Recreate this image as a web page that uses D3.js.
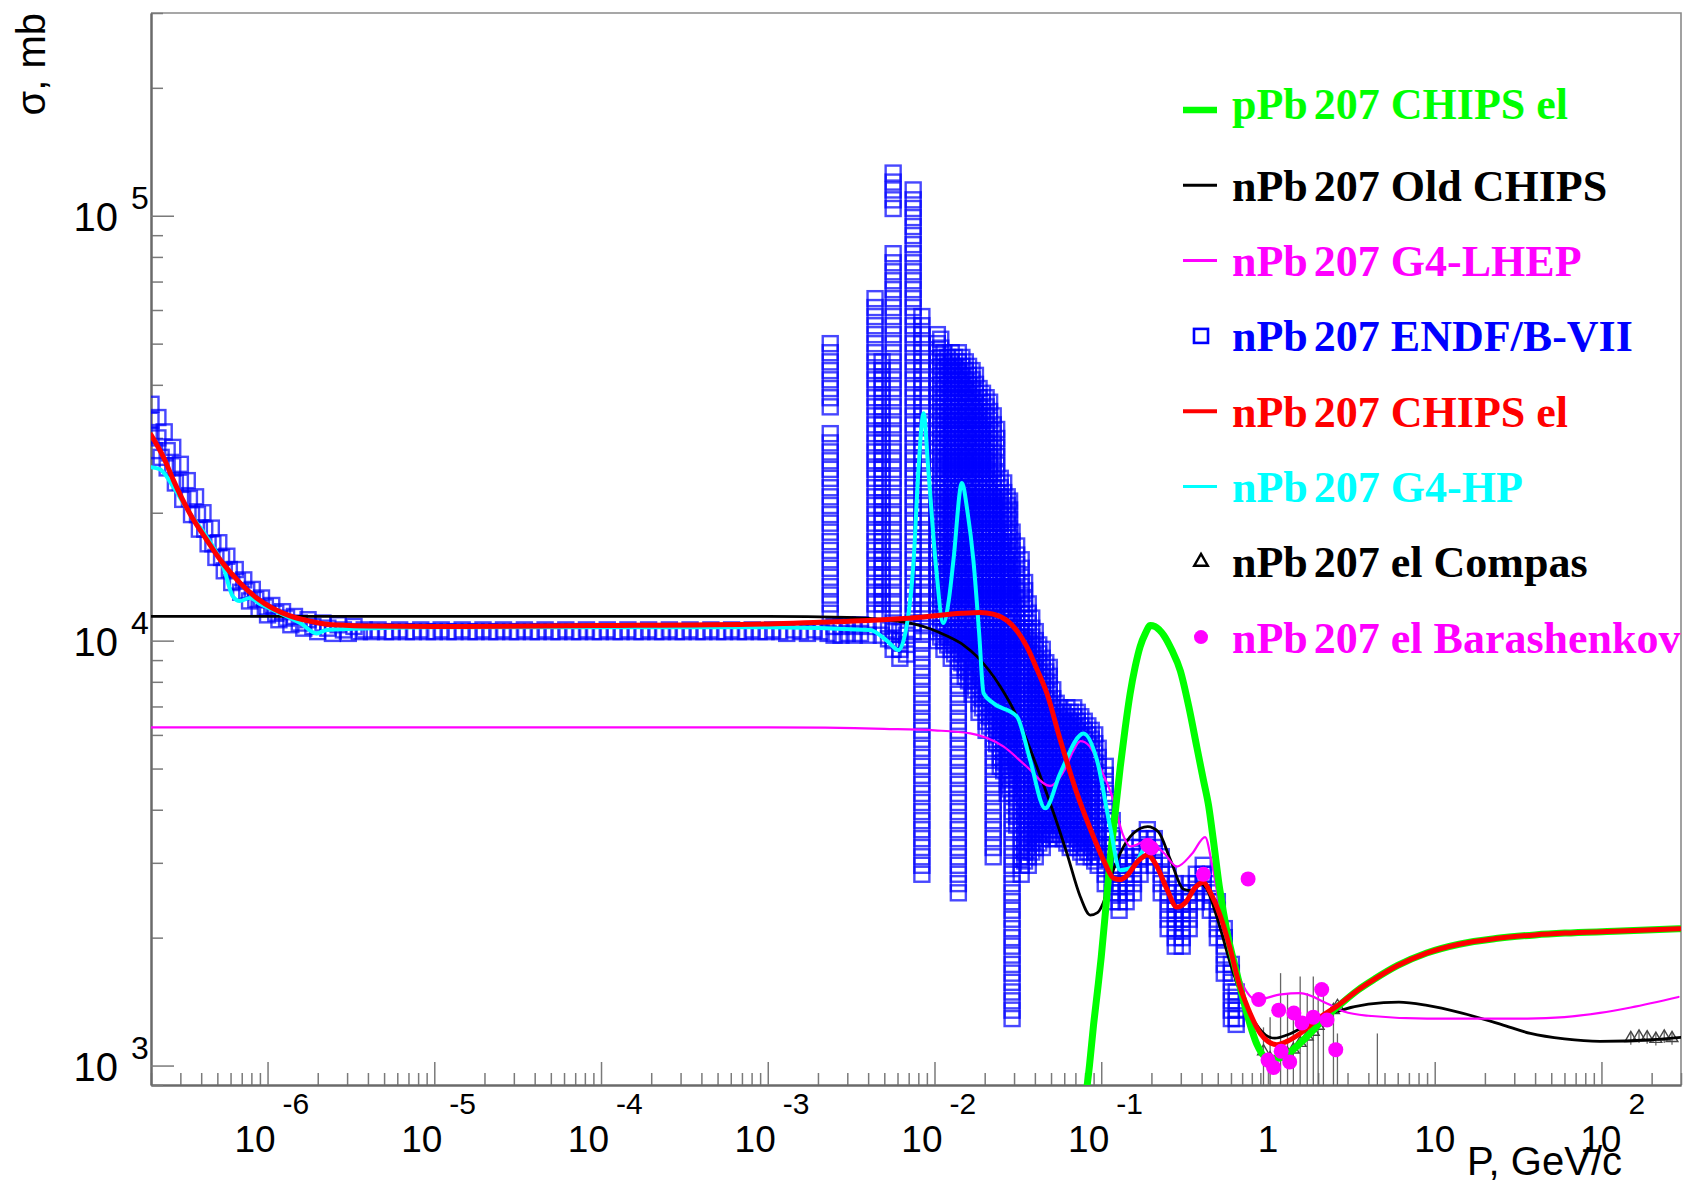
<!DOCTYPE html>
<html>
<head>
<meta charset="utf-8">
<script src="https://cdn.jsdelivr.net/npm/d3@7"></script>
<style>
  html, body { margin: 0; padding: 0; background: #fff; }
  svg { display: block; }
</style>
</head>
<body>
<svg id="chart" width="1689" height="1180"></svg>
<script>
// ---------------- data: elastic n/p + Pb207 cross sections, sigma [mb] vs P [GeV/c]

// pPb207 CHIPS el
const pChipsEl = [
  [0.08,820],[0.085,1000],[0.09,1250],[0.095,1500],[0.1,1800],[0.106,2300],[0.113,3050],[0.121,3900],
  [0.13,5040],[0.139,6200],[0.149,7500],[0.16,8700],[0.171,9680],[0.184,10400],[0.197,10850],[0.21,10800],
  [0.223,10600],[0.237,10300],[0.265,9500],[0.298,8500],[0.335,7000],[0.375,5600],[0.41,4700],[0.44,4100],
  [0.47,3400],[0.51,2650],[0.57,2050],[0.65,1650],[0.75,1320],[0.86,1120],[1.0,1040],[1.15,1040],
  [1.33,1070],[1.6,1140],[2.14,1280],[2.59,1370],[3.5,1510],[4.38,1600],[6,1720],[8.95,1840],
  [14,1930],[23.2,1990],[40,2030],[60.4,2050],[120,2070],[300,2100]
];

// nPb207 Old CHIPS
const nOldChips = [
  [2e-7,11400],[1e-4,11400],[1e-3,11400],[3e-3,11350],[5e-3,11200],[7.5e-3,10950],[0.0095,10650],
  [0.0119,10250],[0.015,9750],[0.018,9170],[0.0248,7800],[0.0312,6630],[0.0411,5050],[0.0518,3930],
  [0.0622,3160],[0.0748,2500],[0.0859,2260],[0.095,2290],[0.103,2420],[0.115,2800],[0.13,3160],
  [0.156,3520],[0.19,3650],[0.22,3550],[0.26,3050],[0.312,2600],[0.35,2580],[0.393,2680],[0.43,2600],
  [0.5,2200],[0.6,1720],[0.7,1450],[0.85,1250],[1.0,1170],[1.1,1160],[1.3,1180],[1.8,1260],
  [2.59,1340],[4,1395],[6.1,1410],[9,1385],[14.4,1330],[25,1250],[37.5,1190],[60,1155],[98,1140],
  [200,1150],[300,1165]
];

// nPb207 G4-LHEP
const nLhep = [
  [2e-7,6250],[1e-3,6250],[5e-3,6200],[0.01,6150],[0.0164,6050],[0.026,5630],[0.0358,5050],
  [0.0494,4550],[0.06,4950],[0.068,5500],[0.075,5800],[0.085,5650],[0.098,5050],[0.1186,4200],
  [0.134,3520],[0.15,3280],[0.19,3380],[0.24,3150],[0.284,2940],[0.35,3150],[0.42,3450],[0.46,3000],
  [0.52,2300],[0.6,1850],[0.7,1560],[0.85,1430],[1.2,1470],[1.56,1480],[2.26,1400],[2.85,1340],
  [4,1310],[9,1290],[36,1290],[60,1300],[98,1330],[150,1370],[290,1450]
];

// nPb207 CHIPS el
const nChipsEl = [
  [2e-7,30500],[2.4e-7,26800],[2.72e-7,23900],[3.4e-7,20000],[4.3e-7,17300],[5.4e-7,15200],
  [6.8e-7,13700],[8.6e-7,12600],[1.08e-6,11900],[1.35e-6,11450],[1.72e-6,11150],[2.2e-6,10950],
  [2.72e-6,10880],[4e-6,10820],[1e-5,10800],[1e-4,10850],[1e-3,10950],[2.06e-3,11050],[4e-3,11150],
  [8.2e-3,11350],[0.0145,11600],[0.0188,11650],[0.0225,11550],[0.0272,11150],[0.0315,10500],
  [0.0358,9680],[0.0415,8500],[0.0472,7520],[0.0568,5840],[0.0715,4370],[0.09,3450],[0.105,3000],
  [0.1186,2760],[0.13,2740],[0.1426,2800],[0.165,3020],[0.19,3130],[0.215,2950],[0.25,2580],
  [0.284,2360],[0.32,2420],[0.365,2620],[0.41,2700],[0.45,2560],[0.52,2240],[0.59,1900],[0.68,1530],
  [0.75,1380],[0.9,1190],[1.0,1140],[1.13,1120],[1.3,1140],[1.56,1190],[2.0,1290],[2.59,1380],
  [3.5,1510],[4.38,1600],[6,1720],[8.95,1840],[14,1930],[23.2,1990],[40,2030],[60.4,2050],
  [120,2070],[300,2100]
];

// nPb207 G4-HP
const nHp = [
  [2e-7,25600],[2.27e-7,25300],[2.72e-7,23000],[3.43e-7,19900],[4.3e-7,17600],[5.43e-7,14900],
  [6.2e-7,12700],[6.8e-7,12400],[7.85e-7,12600],[9e-7,12200],[1.08e-6,11800],[1.57e-6,11000],
  [1.97e-6,10400],[2.26e-6,10600],[4.3e-6,10700],[1e-5,10750],[1e-4,10750],[1e-3,10750],
  [4.1e-3,10600],[5.18e-3,10000],[6.08e-3,9500],[6.8e-3,10800],[7.5e-3,15500],[8.0e-3,25000],
  [8.6e-3,34300],[9.2e-3,25000],[0.0102,15000],[0.0113,11000],[0.0122,12500],[0.013,15500],
  [0.0146,23500],[0.0158,20000],[0.0171,15500],[0.0185,10500],[0.0197,7520],[0.0226,7120],
  [0.0312,6630],[0.0375,5230],[0.0461,4030],[0.0568,4880],[0.0783,6050],[0.0942,5240],
  [0.113,3650],[0.13,2880],[0.156,2940],[0.184,3270],[0.194,3300]
];

// nPb207 ENDF/B-VII, thermal-to-eV band
const endfLow = [
  [2.0e-7,36000],[2.0e-7,33000],[2.0e-7,30500],[2.1e-7,28000],[2.2e-7,33500],[2.2e-7,30000],[2.3e-7,27000],
  [2.4e-7,31000],[2.5e-7,28000],[2.5e-7,25500],[2.7e-7,28500],[2.7e-7,25800],[2.8e-7,23500],
  [3.0e-7,26000],[3.0e-7,23600],[3.1e-7,21500],[3.3e-7,23800],[3.4e-7,21600],[3.5e-7,19800],
  [3.7e-7,21800],[3.8e-7,19800],[3.9e-7,18300],[4.1e-7,20000],[4.2e-7,18300],[4.4e-7,16900],
  [4.6e-7,18400],[4.7e-7,16900],[4.9e-7,15700],[5.1e-7,17000],[5.3e-7,15700],[5.5e-7,14600],
  [5.7e-7,15800],[5.9e-7,14700],[6.1e-7,13700],[6.4e-7,14700],[6.6e-7,13800],[6.9e-7,13000],
  [7.2e-7,13900],[7.5e-7,13100],[7.8e-7,12400],[8.1e-7,13200],[8.5e-7,12500],[8.9e-7,11900],
  [9.2e-7,12600],[9.7e-7,12000],[1.0e-6,11500],[1.06e-6,12100],[1.12e-6,11600],[1.17e-6,11200],
  [1.23e-6,11700],[1.3e-6,11300],[1.38e-6,10900],[1.45e-6,11400],[1.55e-6,11000],[1.65e-6,10700],
  [1.75e-6,11200],[1.87e-6,10800],[2.0e-6,10500],[2.15e-6,11000],[2.3e-6,10700],[2.45e-6,10400],
  [2.65e-6,10900],[2.85e-6,10600],[3.05e-6,10400],[3.3e-6,10800],[3.55e-6,10500]
];

// nPb207 ENDF/B-VII, flat potential-scattering plateau
const endfFlat = [
  [3.8e-6,10600],[4.2e-6,10500],[4.6e-6,10600],[5.1e-6,10500],[5.6e-6,10500],[6.2e-6,10600],
  [6.8e-6,10500],[7.5e-6,10500],[8.3e-6,10600],[9.1e-6,10500],[1.0e-5,10500],[1.1e-5,10600],
  [1.21e-5,10500],[1.33e-5,10500],[1.47e-5,10600],[1.62e-5,10500],[1.78e-5,10500],[1.96e-5,10600],
  [2.15e-5,10500],[2.37e-5,10500],[2.6e-5,10600],[2.87e-5,10500],[3.15e-5,10500],[3.47e-5,10600],
  [3.82e-5,10500],[4.2e-5,10500],[4.62e-5,10600],[5.08e-5,10500],[5.59e-5,10500],[6.15e-5,10600],
  [6.76e-5,10500],[7.44e-5,10500],[8.18e-5,10600],[9e-5,10500],[9.9e-5,10500],[1.09e-4,10600],
  [1.2e-4,10500],[1.32e-4,10500],[1.45e-4,10600],[1.6e-4,10500],[1.76e-4,10500],[1.93e-4,10600],
  [2.13e-4,10500],[2.34e-4,10500],[2.57e-4,10600],[2.83e-4,10500],[3.11e-4,10500],[3.42e-4,10600],
  [3.77e-4,10500],[4.14e-4,10500],[4.56e-4,10600],[5.01e-4,10500],[5.51e-4,10500],[6.07e-4,10600],
  [6.67e-4,10500],[7.34e-4,10500],[8.07e-4,10600],[8.88e-4,10500],[9.77e-4,10500],[1.07e-3,10600],
  [1.18e-3,10500],[1.3e-3,10400],[1.43e-3,10600],[1.57e-3,10500],[1.73e-3,10400],[1.9e-3,10600],
  [2.09e-3,10500],[2.3e-3,10400],[2.5e-3,10800],[2.5e-3,10300],[2.75e-3,10800],[2.75e-3,10300],
  [3.0e-3,10900],[3.0e-3,10400],[3.3e-3,10800],[3.3e-3,10300],[3.6e-3,10900],[3.6e-3,10400],
  [4.0e-3,10800],[4.0e-3,10300],[4.8e-3,10800],[4.8e-3,10300],[5.3e-3,10600],[5.3e-3,10100]
];

// nPb207 ENDF/B-VII, resonance region: [P, sigma values at that P]
const endfResonance = [
  [0.00237,[50000,47600,45300,43200,41100,39200,37300,35500,30700,29200,27800,26500,25300,24100,22900,21800,20800,19800,18900,18000,17100,16300,15500,14800,14100,13400,12800,12200,11600]],
  [0.0044,[63800,60800,57900,55100,52500,50000,47600,45300,43200,41100,39200,37300,35500,33800,32200,30700,29200,27800,26500,25300,24100,22900,21800,20800,19800,18900,18000,17100,16300,15500,14800,14100,13400,12800,12200,11600]],
  [0.00485,[45300,43200,41100,39200,37300,35500,33800,32200,30700,29200,27800,26500,25300,24100,22900,21800,20800,19800,18900,18000,17100,16300,15500,14800,14100,13400,12800,12200,11600]],
  [0.00565,[126000,120000,115000,109000,104000,81400,77500,73800,70300,67000,63800,60800,57900,55100,52500,50000,47600,45300,43200,41100,39200,37300,35500,33800,32200,30700,29200,27800,26500,25300,24100,22900,21800,20800,19800,18900,18000,17100,16300,15500,14800,14100,13400,12800,12200,11600,11000,10500,10000,9540]],
  [0.0062,[10500,10000,9540,9090]],
  [0.0068,[10300,9800,9300]],
  [0.00745,[115000,109000,104000,99000,94300,89800,85500,81400,77500,73800,70300,67000,63800,60800,57900,55100,52500,50000,47600,45300,43200,41100,39200,37300,35500,33800,32200,30700,29200,27800,26500,25300,24100,22900,21800,20800,19800,18900,18000,17100,16300,15500,14800,14100,13400,12800,12200,11600,11000,10500]],
  [0.0084,[57900,55100,52500,50000,47600,45300,43200,41100,39200,37300,35500,33800,32200,30700,29200,27800,26500,25300,24100,22900,21800,20800,19800,18900,18000,17100,16300,15500,14800,14100,13400,12800,12200,11600,11000,10500,10000,9540,9090,8650,8240,7850,7480,7120,6780,6460,6150,5860,5580,5310,5060,4820,4590,4370,4160,3960,3770,3590,3420,3260,3100,2960,2820]],
  [0.0104,[52500,50000,47600,45300,43200,41100,39200,37300,35500,33800,32200,30700,29200,27800,26500,25300,24100,22900,21800,20800,19800,18900,18000,17100,16300,15500,14800,14100,13400,12800,12200,11600,11000,10500,10000]],
  [0.0109,[51200,48800,46400,44200,42100,40100,38200,36400,34600,33000,31400,29900,28500,27100,25900,24700,23500,22300,21300,20300,19300,18400,17500,16700,15900,15100,14400,13700,13100,12500,11900,11300,10700,10200]],
  [0.0114,[47600,45300,43200,41100,39200,37300,35500,33800,32200,30700,29200,27800,26500,25300,24100,22900,21800,20800,19800,18900,18000,17100,16300,15500,14800,14100,13400,12800,12200,11600,11000,10500,10000,9540]],
  [0.012,[46400,44200,42100,40100,38200,36400,34600,33000,31400,29900,28500,27100,25900,24700,23500,22300,21300,20300,19300,18400,17500,16700,15900,15100,14400,13700,13100,12500,11900,11300,10700,10200,9770]],
  [0.0126,[47600,45300,43200,41100,39200,37300,35500,33800,32200,30700,29200,27800,26500,25300,24100,22900,21800,20800,19800,18900,18000,17100,16300,15500,14800,14100,13400,12800,12200,11600,11000,10500,10000,9540,9090]],
  [0.0132,[46400,44200,42100,40100,38200,36400,34600,33000,31400,29900,28500,27100,25900,24700,23500,22300,21300,20300,19300,18400,17500,16700,15900,15100,14400,13700,13100,12500,11900,11300,10700,10200,9770,9310]],
  [0.0139,[47600,45300,43200,41100,39200,37300,35500,33800,32200,30700,29200,27800,26500,25300,24100,22900,21800,20800,19800,18900,18000,17100,16300,15500,14800,14100,13400,12800,12200,11600,11000,10500,10000,9540,9090,8650,8240,7850,7480,7120,6780,6460,6150,5860,5580,5310,5060,4820,4590,4370,4160,3960,3770,3590,3420,3260,3100,2960,2820,2680,2550]],
  [0.0146,[46400,44200,42100,40100,38200,36400,34600,33000,31400,29900,28500,27100,25900,24700,23500,22300,21300,20300,19300,18400,17500,16700,15900,15100,14400,13700,13100,12500,11900,11300,10700,10200,9770,9310,8870]],
  [0.0153,[45300,43200,41100,39200,37300,35500,33800,32200,30700,29200,27800,26500,25300,24100,22900,21800,20800,19800,18900,18000,17100,16300,15500,14800,14100,13400,12800,12200,11600,11000,10500,10000,9540,9090,8650,8240]],
  [0.016,[44200,42100,40100,38200,36400,34600,33000,31400,29900,28500,27100,25900,24700,23500,22300,21300,20300,19300,18400,17500,16700,15900,15100,14400,13700,13100,12500,11900,11300,10700,10200,9770,9310,8870,8440,8040]],
  [0.0168,[43200,41100,39200,37300,35500,33800,32200,30700,29200,27800,26500,25300,24100,22900,21800,20800,19800,18900,18000,17100,16300,15500,14800,14100,13400,12800,12200,11600,11000,10500,10000,9540,9090,8650,8240,7850,7480]],
  [0.0176,[42100,40100,38200,36400,34600,33000,31400,29900,28500,27100,25900,24700,23500,22300,21300,20300,19300,18400,17500,16700,15900,15100,14400,13700,13100,12500,11900,11300,10700,10200,9770,9310,8870,8440,8040,7660]],
  [0.0185,[39200,37300,35500,33800,32200,30700,29200,27800,26500,25300,24100,22900,21800,20800,19800,18900,18000,17100,16300,15500,14800,14100,13400,12800,12200,11600,11000,10500,10000,9540,9090,8650,8240,7850,7480,7120,6780]],
  [0.0194,[38200,36400,34600,33000,31400,29900,28500,27100,25900,24700,23500,22300,21300,20300,19300,18400,17500,16700,15900,15100,14400,13700,13100,12500,11900,11300,10700,10200,9770,9310,8870,8440,8040,7660,7300,6950]],
  [0.0204,[37300,35500,33800,32200,30700,29200,27800,26500,25300,24100,22900,21800,20800,19800,18900,18000,17100,16300,15500,14800,14100,13400,12800,12200,11600,11000,10500,10000,9540,9090,8650,8240,7850,7480,7120,6780,6460,6150]],
  [0.0214,[36400,34600,33000,31400,29900,28500,27100,25900,24700,23500,22300,21300,20300,19300,18400,17500,16700,15900,15100,14400,13700,13100,12500,11900,11300,10700,10200,9770,9310,8870,8440,8040,7660,7300,6950,6620,6300]],
  [0.0225,[33800,32200,30700,29200,27800,26500,25300,24100,22900,21800,20800,19800,18900,18000,17100,16300,15500,14800,14100,13400,12800,12200,11600,11000,10500,10000,9540,9090,8650,8240,7850,7480,7120,6780,6460,6150,5860,5580,5310,5060,4820,4590,4370,4160,3960,3770,3590,3420,3260,3100]],
  [0.0236,[31400,29900,28500,27100,25900,24700,23500,22300,21300,20300,19300,18400,17500,16700,15900,15100,14400,13700,13100,12500,11900,11300,10700,10200,9770,9310,8870,8440,8040,7660,7300,6950,6620,6300,6000,5720]],
  [0.0248,[24100,22900,21800,20800,19800,18900,18000,17100,16300,15500,14800,14100,13400,12800,12200,11600,11000,10500,10000,9540,9090,8650,8240,7850,7480,7120,6780,6460,6150,5860,5580,5310,5060]],
  [0.026,[23500,22300,21300,20300,19300,18400,17500,16700,15900,15100,14400,13700,13100,12500,11900,11300,10700,10200,9770,9310,8870,8440,8040,7660,7300,6950,6620,6300,6000,5720,5440,5180,4940]],
  [0.0273,[21800,20800,19800,18900,18000,17100,16300,15500,14800,14100,13400,12800,12200,11600,11000,10500,10000,9540,9090,8650,8240,7850,7480,7120,6780,6460,6150,5860,5580,5310,5060,4820,4590,4370]],
  [0.0282,[21300,20300,19300,18400,17500,16700,15900,15100,14400,13700,13100,12500,11900,11300,10700,10200,9770,9310,8870,8440,8040,7660,7300,6950,6620,6300,6000,5720,5440,5180,4940,4700,4480]],
  [0.0292,[18000,17100,16300,15500,14800,14100,13400,12800,12200,11600,11000,10500,10000,9540,9090,8650,8240,7850,7480,7120,6780,6460,6150,5860,5580,5310,5060,4820,4590,4370,4160,3960,3770,3590,3420,3260,3100,2960,2820,2680,2550,2430,2320,2210,2100,2000,1910,1820,1730,1650,1570,1490,1420,1350,1290]],
  [0.0311,[16700,15900,15100,14400,13700,13100,12500,11900,11300,10700,10200,9770,9310,8870,8440,8040,7660,7300,6950,6620,6300,6000,5720,5440,5180,4940,4700,4480,4260,4060,3860,3680]],
  [0.0331,[15500,14800,14100,13400,12800,12200,11600,11000,10500,10000,9540,9090,8650,8240,7850,7480,7120,6780,6460,6150,5860,5580,5310,5060,4820,4590,4370,4160,3960,3770,3590,3420,3260,3100,2960,2820]],
  [0.0347,[13700,13100,12500,11900,11300,10700,10200,9770,9310,8870,8440,8040,7660,7300,6950,6620,6300,6000,5720,5440,5180,4940,4700,4480,4260,4060,3860,3680,3500,3340,3180,3030]],
  [0.0365,[12200,11600,11000,10500,10000,9540,9090,8650,8240,7850,7480,7120,6780,6460,6150,5860,5580,5310,5060,4820,4590,4370,4160,3960,3770,3590,3420,3260,3100,2960]],
  [0.0383,[11300,10700,10200,9770,9310,8870,8440,8040,7660,7300,6950,6620,6300,6000,5720,5440,5180,4940,4700,4480,4260,4060,3860,3680,3500,3340,3180]],
  [0.0402,[10500,10000,9540,9090,8650,8240,7850,7480,7120,6780,6460,6150,5860,5580,5310,5060,4820,4590,4370,4160,3960,3770,3590,3420,3260,3100]],
  [0.0422,[9770,9310,8870,8440,8040,7660,7300,6950,6620,6300,6000,5720,5440,5180,4940,4700,4480,4260,4060,3860,3680,3500,3340]],
  [0.0443,[9540,9090,8650,8240,7850,7480,7120,6780,6460,6150,5860,5580,5310,5060,4820,4590,4370,4160,3960,3770,3590,3420,3260]],
  [0.0465,[8870,8440,8040,7660,7300,6950,6620,6300,6000,5720,5440,5180,4940,4700,4480,4260,4060,3860,3680,3500]],
  [0.0488,[8650,8240,7850,7480,7120,6780,6460,6150,5860,5580,5310,5060,4820,4590,4370,4160,3960,3770,3590,3420]],
  [0.0512,[7660,7300,6950,6620,6300,6000,5720,5440,5180,4940,4700,4480,4260,4060,3860,3680,3500]],
  [0.0537,[7120,6780,6460,6150,5860,5580,5310,5060,4820,4590,4370,4160,3960,3770,3590,3420]],
  [0.0564,[6950,6620,6300,6000,5720,5440,5180,4940,4700,4480,4260,4060,3860,3680,3500]],
  [0.0592,[6780,6460,6150,5860,5580,5310,5060,4820,4590,4370,4160,3960,3770,3590,3420]],
  [0.0622,[6950,6620,6300,6000,5720,5440,5180,4940,4700,4480,4260,4060,3860,3680,3500,3340]],
  [0.0652,[6780,6460,6150,5860,5580,5310,5060,4820,4590,4370,4160,3960,3770,3590,3420,3260]],
  [0.0684,[6950,6620,6300,6000,5720,5440,5180,4940,4700,4480,4260,4060,3860,3680,3500,3340]],
  [0.0718,[6780,6460,6150,5860,5580,5310,5060,4820,4590,4370,4160,3960,3770,3590,3420,3260]],
  [0.0754,[6620,6300,6000,5720,5440,5180,4940,4700,4480,4260,4060,3860,3680,3500,3340,3180]],
  [0.0791,[6460,6150,5860,5580,5310,5060,4820,4590,4370,4160,3960,3770,3590,3420,3260,3100]],
  [0.0831,[6300,6000,5720,5440,5180,4940,4700,4480,4260,4060,3860,3680,3500,3340,3180]],
  [0.0871,[6150,5860,5580,5310,5060,4820,4590,4370,4160,3960,3770,3590,3420,3260,3100]],
  [0.0914,[6000,5720,5440,5180,4940,4700,4480,4260,4060,3860,3680,3500,3340,3180,3030]],
  [0.0959,[5580,5310,5060,4820,4590,4370,4160,3960,3770,3590,3420,3260,3100,2960]]
];

// nPb207 ENDF/B-VII, smooth high-energy part
const endfHigh = [
  [0.1057,[5060,4820,4590,4370,4160,3960,3770,3590,3420,3260,3100,2960,2820,2680]],
  [0.1164,[3770,3590,3420,3260,3100,2960,2820,2680,2550,2430]],
  [0.128,[3260,3100,2960,2820,2680,2550,2430,2320]],
  [0.141,[3100,2960,2820,2680,2550,2430]],
  [0.156,[3260,3100,2960,2820,2680,2550]],
  [0.171,[3420,3260,3100,2960,2820]],
  [0.189,[3590,3420,3260,3100]],
  [0.208,[3420,3260,3100,2960]],
  [0.229,[3100,2960,2820,2680,2550]],
  [0.252,[2820,2680,2550,2430,2320,2210,2100]],
  [0.278,[2680,2550,2430,2320,2210,2100,2000,1910]],
  [0.306,[2550,2430,2320,2210,2100,2000,1910]],
  [0.337,[2680,2550,2430,2320,2210,2100]],
  [0.372,[2820,2680,2550,2430]],
  [0.409,[2960,2820,2680,2550]],
  [0.451,[2820,2680,2550,2430,2320]],
  [0.497,[2430,2320,2210,2100,2000]],
  [0.547,[2100,2000,1910,1820,1730,1650]],
  [0.603,[1730,1650,1570,1490,1420,1350,1290]],
  [0.645,[1490,1420,1350,1290,1250]]
];

// nPb207 el Compas: P, sigma, lower and upper error-bar ends
const compasP  = [0.94, 1.03, 1.19, 1.31, 1.42, 1.56, 1.72, 1.87, 2.0, 2.15, 2.47, 2.61, 4.53, 150, 168, 188, 212, 238, 265];
const compasS  = [1080, 1040, 1050, 1065, 1090, 1130, 1170, 1200, 1240, 1280, 1350, 1380, 850, 1160, 1170, 1165, 1155, 1170, 1160];
const compasLo = [700, 700, 750, 780, 800, 750, 780, 750, 800, 800, 850, 850, 700, 1120, 1130, 1125, 1115, 1130, 1120];
const compasHi = [1230, 1300, 1650, 1480, 1330, 1620, 1480, 1620, 1530, 1480, 1330, 1190, 1190, 1200, 1210, 1205, 1195, 1210, 1200];

// nPb207 el Barashenkov
const barashP = [0.19, 0.2, 0.41, 0.76, 0.88, 1.0, 1.08, 1.16, 1.2, 1.35, 1.43, 1.6, 1.87, 2.1, 2.26, 2.55, 5.6];
const barashS = [3300, 3250, 2820, 2750, 1430, 1030, 990, 1350, 1080, 1020, 1330, 1260, 1300, 1510, 1280, 1090, 860];

// axis tick labels
const xMajor = [1e-6, 1e-5, 1e-4, 1e-3, 1e-2, 1e-1, 1, 10, 100];
const xMajorBase = ["10", "10", "10", "10", "10", "10", "1", "10", "10"];
const xMajorExp  = ["-6", "-5", "-4", "-3", "-2", "-1", "", "", "2"];
const yMajor = [1e3, 1e4, 1e5];
const yMajorBase = ["10", "10", "10"];
const yMajorExp  = ["3", "4", "5"];

// legend
const legendLabels = ["pPb207 CHIPS el", "nPb207 Old CHIPS", "nPb207 G4-LHEP", "nPb207 ENDF/B-VII",
                      "nPb207 CHIPS el", "nPb207 G4-HP", "nPb207 el Compas", "nPb207 el Barashenkov"];
const legendColors = ["#00ff00", "#000000", "#ff00ff", "#0000ff", "#ff0000", "#00ffff", "#000000", "#ff00ff"];
const legendKinds  = ["line", "line", "line", "square", "line", "line", "triangle", "circle"];

// ---------------- drawing
const svg = d3.select("#chart");
const L = 151, R = 1681, T = 13, B = 1085;
const x = d3.scaleLog().domain([2e-7, 300]).range([L, R]);
const y = d3.scaleLog().domain([900, 3e5]).range([B, T]);

svg.append("rect").attr("width", 1689).attr("height", 1180).attr("fill", "#fff");

svg.append("defs").append("clipPath").attr("id", "plotClip")
  .append("rect").attr("x", L).attr("y", T).attr("width", R - L).attr("height", B - T);

// frame (top and right)
svg.append("path")
  .attr("d", `M${L},${T}H${R}V${B}`)
  .attr("fill", "none").attr("stroke", "#8a8a8a").attr("stroke-width", 1.6);

const isPow10 = v => Math.abs(Math.log10(v) - Math.round(Math.log10(v))) < 1e-9;
const xMinor = x.ticks(30).filter(v => !isPow10(v));
const yMinor = y.ticks(30).filter(v => !isPow10(v));

function styleAxis(g) {
  g.selectAll(".domain").attr("stroke", "#6a6a6a").attr("stroke-width", 2);
  g.selectAll(".tick line").attr("stroke", "#7a7a7a").attr("stroke-width", 1.5);
  g.selectAll(".tick text").remove();
}

svg.append("g").attr("transform", `translate(0,${B})`)
  .call(d3.axisBottom(x).tickValues(xMinor).tickSize(-12).tickSizeOuter(0).tickFormat(""))
  .call(styleAxis);
svg.append("g").attr("transform", `translate(0,${B})`)
  .call(d3.axisBottom(x).tickValues(xMajor).tickSize(-23).tickSizeOuter(0).tickFormat(""))
  .call(styleAxis);
svg.append("g").attr("transform", `translate(${L},0)`)
  .call(d3.axisLeft(y).tickValues(yMinor).tickSize(-12).tickSizeOuter(0).tickFormat(""))
  .call(styleAxis);
svg.append("g").attr("transform", `translate(${L},0)`)
  .call(d3.axisLeft(y).tickValues(yMajor).tickSize(-23).tickSizeOuter(0).tickFormat(""))
  .call(styleAxis);

// tick labels: "10" with a raised exponent
const sans = "'Liberation Sans', Arial, Helvetica, sans-serif";
const xl = svg.append("g").attr("font-family", sans).attr("fill", "#000");
xMajor.forEach((v, i) => {
  const px = x(v);
  const ex = xMajorExp[i];
  if (ex) {
    const off = ex.startsWith("-") ? 8 : 20;
    xl.append("text").attr("x", px + off).attr("y", 1152).attr("text-anchor", "end")
      .attr("font-size", 37).text(xMajorBase[i]);
    xl.append("text").attr("x", px + off + 7).attr("y", 1114)
      .attr("font-size", 30).text(ex);
  } else {
    xl.append("text").attr("x", px).attr("y", 1152).attr("text-anchor", "middle")
      .attr("font-size", 37).text(xMajorBase[i]);
  }
});
yMajor.forEach((v, i) => {
  const py = y(v);
  xl.append("text").attr("x", 118).attr("y", py + 15).attr("text-anchor", "end")
    .attr("font-size", 40).text(yMajorBase[i]);
  xl.append("text").attr("x", 131).attr("y", py - 7)
    .attr("font-size", 32).text(yMajorExp[i]);
});

// axis titles
xl.append("text").attr("x", 1622).attr("y", 1175).attr("text-anchor", "end")
  .attr("font-size", 40).text("P, GeV/c");
xl.append("text").attr("transform", "translate(45,13) rotate(-90)").attr("text-anchor", "end")
  .attr("font-size", 40).text("σ, mb");

// ---------------- data layer
const plot = svg.append("g").attr("clip-path", "url(#plotClip)");

// ENDF squares
const endfPoints = []
  .concat(endfLow, endfFlat)
  .concat(endfResonance.flatMap(([p, ss]) => ss.map(s => [p, s])))
  .concat(endfHigh.flatMap(([p, ss]) => ss.map(s => [p, s])));
const SQ = 15;
plot.append("g").selectAll("rect").data(endfPoints).join("rect")
  .attr("x", d => x(d[0]) - SQ / 2).attr("y", d => y(d[1]) - SQ / 2)
  .attr("width", SQ).attr("height", SQ)
  .attr("fill", "none").attr("stroke", "#0000ff").attr("stroke-opacity", 0.72).attr("stroke-width", 2.4);

// Compas: error bars and open triangles (under the model curves)
const compas = compasP.map((p, i) => ({ p, s: compasS[i], lo: compasLo[i], hi: compasHi[i] }));
const cg = plot.append("g");
cg.selectAll("line").data(compas).join("line")
  .attr("x1", d => x(d.p)).attr("x2", d => x(d.p))
  .attr("y1", d => y(d.lo)).attr("y2", d => y(d.hi))
  .attr("stroke", "#666").attr("stroke-width", 1.3);
const tri = d3.symbol().type(d3.symbolTriangle).size(60);
cg.selectAll("path").data(compas).join("path")
  .attr("d", tri).attr("transform", d => `translate(${x(d.p)},${y(d.s)})`)
  .attr("fill", "none").attr("stroke", "#444").attr("stroke-width", 1.4);

const line = d3.line().x(d => x(d[0])).y(d => y(d[1])).curve(d3.curveMonotoneX);
function drawCurve(data, color, width) {
  plot.append("path").datum(data).attr("d", line)
    .attr("fill", "none").attr("stroke", color).attr("stroke-width", width)
    .attr("stroke-linejoin", "round").attr("stroke-linecap", "round");
}
drawCurve(nOldChips, "#000000", 2.8);
drawCurve(nLhep, "#ff00ff", 2.2);
drawCurve(pChipsEl, "#00ff00", 7);
drawCurve(nHp, "#00ffff", 4);
drawCurve(nChipsEl, "#ff0000", 5);

// Barashenkov: filled circles
plot.append("g").selectAll("circle").data(barashP.map((p, i) => [p, barashS[i]])).join("circle")
  .attr("cx", d => x(d[0])).attr("cy", d => y(d[1])).attr("r", 7.5).attr("fill", "#ff00ff");

// ---------------- legend
const lg = svg.append("g");
legendLabels.forEach((lab, i) => {
  const cy = 110 + 75.3 * i;
  const col = legendColors[i];
  const kind = legendKinds[i];
  if (kind === "line") {
    lg.append("line").attr("x1", 1183).attr("x2", 1217).attr("y1", cy).attr("y2", cy)
      .attr("stroke", col).attr("stroke-width", i === 0 ? 6.5 : (i === 4 ? 4 : 3));
  } else if (kind === "square") {
    lg.append("rect").attr("x", 1194).attr("y", cy - 7).attr("width", 14).attr("height", 14)
      .attr("fill", "none").attr("stroke", col).attr("stroke-width", 2.6);
  } else if (kind === "triangle") {
    lg.append("path").attr("d", d3.symbol().type(d3.symbolTriangle).size(80)())
      .attr("transform", `translate(1201,${cy})`)
      .attr("fill", "none").attr("stroke", col).attr("stroke-width", 2.4);
  } else {
    lg.append("circle").attr("cx", 1201).attr("cy", cy).attr("r", 7).attr("fill", col);
  }
  // the nucleus name "Pb" and mass number are set slightly apart
  const m = lab.match(/^(\w?Pb)(.*)$/);
  const t = lg.append("text").attr("x", 1232).attr("y", cy + 15.5 - (i === 0 ? 7 : 0))
    .attr("font-family", "'Liberation Serif', 'Times New Roman', serif").attr("font-weight", "bold")
    .attr("font-size", 44).attr("fill", col);
  t.append("tspan").text(m[1]);
  t.append("tspan").attr("dx", 6).text(m[2]);
});
</script>
</body>
</html>
